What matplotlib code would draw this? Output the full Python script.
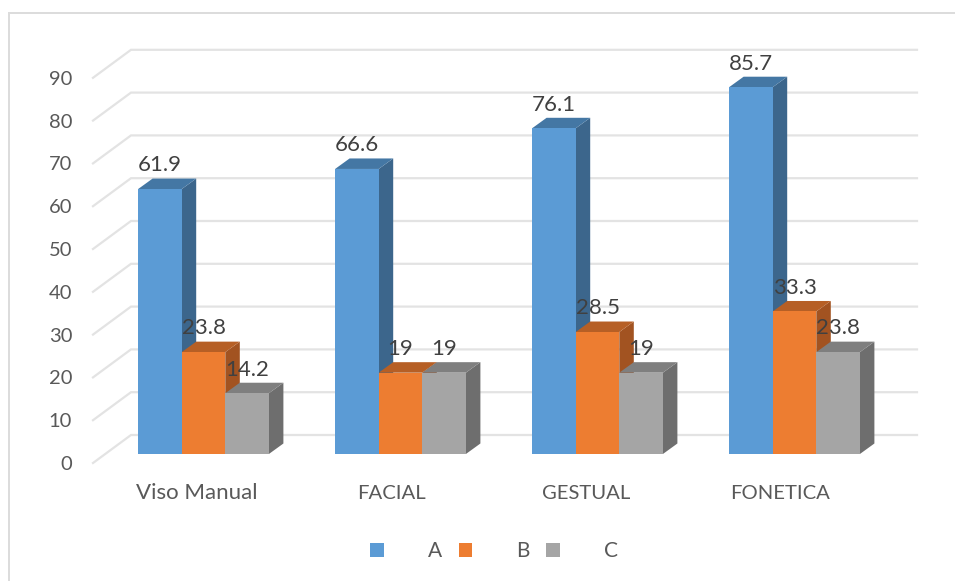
import matplotlib
matplotlib.use('Agg')
import matplotlib.pyplot as plt
from matplotlib.lines import Line2D
from matplotlib.patches import Patch, Polygon
import numpy as np

categories = ['Viso Manual', 'FACIAL', 'GESTUAL', 'FONETICA']
series_names = ['A', 'B', 'C']
a_values = [61.9, 66.6, 76.1, 85.7]
b_values = [23.8, 19, 28.5, 33.3]
c_values = [14.2, 19, 19, 23.8]
value_labels = [['61.9', '66.6', '76.1', '85.7'],
                ['23.8', '19', '28.5', '33.3'],
                ['14.2', '19', '19', '23.8']]

front_colors = ['#5B9BD5', '#ED7D31', '#A5A5A5']
top_colors = ['#4477A4', '#B65F25', '#7F7F7F']
side_colors = ['#3C668C', '#A25321', '#6E6E6E']
TEXT = '#595959'
GRID = '#E3E3E3'

W, H = 955, 581
LEFT, RIGHT, BOTTOM, TOP = 93, 917, 463, 49
PX_X = 197.0   # px per category
PX_Y = 4.28    # px per unit

plt.rcParams['font.family'] = ['Lato', 'DejaVu Sans']

fig = plt.figure(figsize=(W / 100, H / 100), dpi=100)
ax = fig.add_axes([LEFT / W, 1 - BOTTOM / H, (RIGHT - LEFT) / W, (BOTTOM - TOP) / H])
ax.set_xlim((LEFT - 203.5) / PX_X, (RIGHT - 203.5) / PX_X)
ax.set_ylim(0, (BOTTOM - TOP) / PX_Y)

# outer chart frame, open on the right and bottom
fig.add_artist(Line2D([9 / W, 9 / W], [0, 1 - 13 / H], color='#DCDCDC', lw=1.4))
fig.add_artist(Line2D([9 / W, 1], [1 - 13 / H, 1 - 13 / H], color='#DCDCDC', lw=1.4))

# back wall gridlines with the floor/side diagonal
x_left, x_right = ax.get_xlim()
wall_dx = 38 / PX_X
wall_dy = 28 / PX_Y
for v in range(0, 100, 10):
    ax.plot([x_left, x_left + wall_dx, x_right], [v, v + wall_dy, v + wall_dy],
            color=GRID, lw=1.6, zorder=1, clip_on=False, solid_joinstyle='miter')

bar_w = 43.6 / PX_X
base = 9 / PX_Y
dx = 14.5 / PX_X
dy = 10.5 / PX_Y
x = np.arange(len(categories))
series = [a_values, b_values, c_values]

z = 2
for i in x:
    for s, vals in enumerate(series):
        x0 = i + (s - 1.5) * bar_w
        x1 = x0 + bar_w
        top = base + vals[i]
        ax.bar(x0, vals[i], bar_w, bottom=base, align='edge', color=front_colors[s], lw=0, zorder=z + 2)
        ax.add_patch(Polygon([(x0, top), (x1, top), (x1 + dx, top + dy), (x0 + dx, top + dy)],
                             closed=True, fc=top_colors[s], lw=0, zorder=z + 1))
        ax.add_patch(Polygon([(x1, base), (x1 + dx, base + dy), (x1 + dx, top + dy), (x1, top)],
                             closed=True, fc=side_colors[s], lw=0, zorder=z))
        z += 3

for i in x:
    for s, vals in enumerate(series):
        ax.annotate(value_labels[s][i], (i + (s - 1) * bar_w, base + vals[i] + dy),
                    xytext=(0, 9.5), textcoords='offset points', ha='center', va='center',
                    fontsize=16, color='#404040', zorder=100)

ax.set_yticks(range(0, 100, 10))
ax.set_xticks(x * 0.9873 - 0.033)
ax.set_xticklabels(categories)
ax.tick_params(axis='y', length=0, pad=15, labelsize=14.5, labelcolor=TEXT)
ax.tick_params(axis='x', length=0, pad=26, labelsize=16, labelcolor=TEXT)
for label in ax.get_xticklabels():
    label.set_verticalalignment('baseline')
# Lato capitals run wider than the original font
for label in ax.get_xticklabels()[1:]:
    label.set_fontsize(14.6)
for spine in ax.spines.values():
    spine.set_visible(False)

handles = [Patch(fc=c, lw=0) for c in front_colors]
fig.legend(handles, series_names, ncol=3, frameon=False, fontsize=15, labelcolor=TEXT,
           loc='center', bbox_to_anchor=(494 / W, 1 - 551 / H),
           handlelength=0.67, handleheight=0.67, handletextpad=2.1, columnspacing=0.8,
           borderpad=0, borderaxespad=0)

fig.savefig('out.png', dpi=100)
